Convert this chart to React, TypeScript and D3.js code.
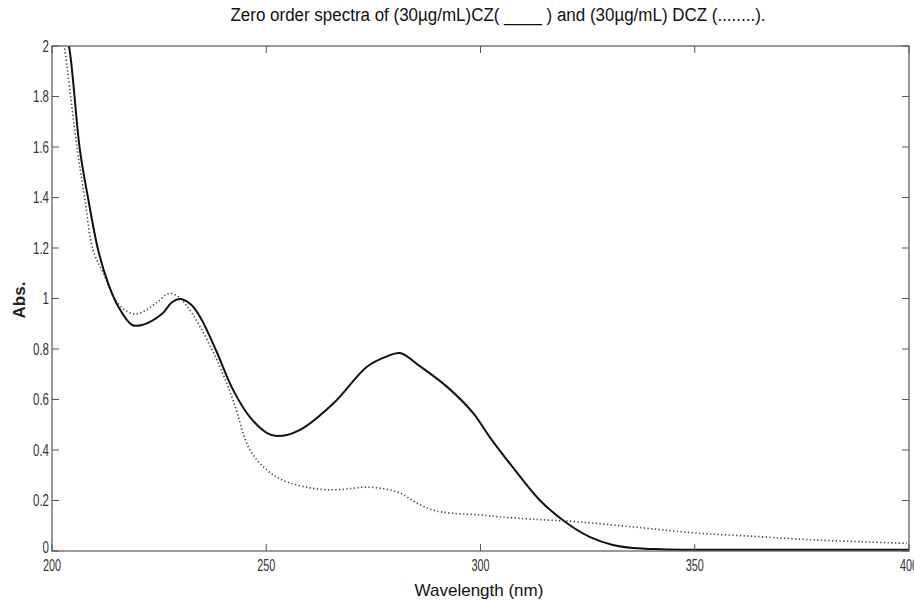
import React from "react";
import * as d3 from "d3";

const czWave = [202.5, 204.3, 206.5, 208.5, 210.8, 213.1, 215.4, 218.7, 221, 225.7, 228, 230, 232.5, 234.8, 238.4, 242.2, 246.2, 250.2, 252.5, 257.9, 265.7, 273.5, 278, 281.2, 286, 292.2, 298.3, 302.2, 307.6, 313.9, 320.2, 325.6, 330.9, 335.6, 342, 349.6, 375, 400];
const czAbs = [2.15, 1.96, 1.59, 1.39, 1.19, 1.06, 0.97, 0.895, 0.895, 0.94, 0.985, 0.998, 0.975, 0.92, 0.79, 0.64, 0.53, 0.467, 0.455, 0.48, 0.585, 0.73, 0.77, 0.784, 0.73, 0.65, 0.546, 0.45, 0.33, 0.2, 0.11, 0.055, 0.024, 0.012, 0.007, 0.005, 0.005, 0.005];

const dczWave = [201.8, 203.5, 205.9, 207.7, 209.6, 212, 215.4, 218.7, 221, 224.5, 227.3, 229.4, 231.5, 234.5, 238.4, 242.2, 246.2, 250.2, 253.9, 260.2, 265.6, 270, 273.5, 277.5, 281.2, 285.1, 288.9, 293, 299.9, 304.5, 312, 323.2, 337, 350.5, 365, 377.6, 390, 399.5];
const dczAbs = [2.15, 1.92, 1.59, 1.39, 1.19, 1.1, 0.98, 0.94, 0.945, 0.985, 1.02, 1.008, 0.97, 0.89, 0.76, 0.6, 0.4, 0.32, 0.28, 0.25, 0.242, 0.248, 0.253, 0.246, 0.23, 0.19, 0.162, 0.15, 0.143, 0.135, 0.126, 0.115, 0.093, 0.071, 0.057, 0.044, 0.036, 0.03];

const xTicks = [200, 250, 300, 350, 400];
const yTicks = [0, 0.2, 0.4, 0.6, 0.8, 1, 1.2, 1.4, 1.6, 1.8, 2];

const titleText = "Zero order spectra of (30µg/mL)CZ( ____ ) and (30µg/mL) DCZ (........).";
const xLabel = "Wavelength (nm)";
const yLabel = "Abs.";

export default function App() {
  const W = 914, H = 603;
  const L = 52, R = 909, T = 46, B = 551;
  const x = d3.scaleLinear().domain([200, 400]).range([L, R]);
  const y = d3.scaleLinear().domain([0, 2]).range([B, T]);
  const line = d3.line<[number, number]>()
    .x(d => x(d[0]))
    .y(d => y(d[1]))
    .curve(d3.curveCatmullRom.alpha(0.5));
  const czPath = line(czWave.map((w, i) => [w, czAbs[i]] as [number, number])) || "";
  const dczPath = line(dczWave.map((w, i) => [w, dczAbs[i]] as [number, number])) || "";
  const tickLen = 7;
  const axisColor = "#555";
  const labelColor = "#333";
  const font = "'Liberation Sans', Arial, sans-serif";

  return (
    <svg width={W} height={H} style={{ position: "absolute", left: 0, top: 0, background: "#fff" }}>
      <defs>
        <clipPath id="plotClip">
          <rect x={L} y={T} width={R - L} height={B - T} />
        </clipPath>
      </defs>
      <rect x={0} y={0} width={W} height={H} fill="#fff" />
      <text x={498} y={21} textAnchor="middle" fontFamily={font} fontSize={18} fill="#111"
        textLength={535} lengthAdjust="spacingAndGlyphs">{titleText}</text>

      {/* curves */}
      <g clipPath="url(#plotClip)">
        <path d={dczPath} fill="none" stroke="#444" strokeWidth={1.6} strokeDasharray="1.3,2.4" />
        <path d={czPath} fill="none" stroke="#111" strokeWidth={2} />
      </g>

      {/* frame */}
      <rect x={L} y={T} width={R - L} height={B - T} fill="none" stroke={axisColor} strokeWidth={1.2} />

      {/* x ticks */}
      {xTicks.map(t => (
        <g key={"x" + t}>
          <line x1={x(t)} x2={x(t)} y1={B} y2={B - tickLen} stroke={axisColor} strokeWidth={1} />
          <line x1={x(t)} x2={x(t)} y1={T} y2={T + tickLen} stroke={axisColor} strokeWidth={1} />
          <g transform={`translate(${x(t)},${571}) scale(0.68,1)`}>
            <text x={0} y={0} textAnchor="middle" fontFamily={font} fontSize={16} fill={labelColor}>{t}</text>
          </g>
        </g>
      ))}

      {/* y ticks */}
      {yTicks.map(t => (
        <g key={"y" + t}>
          <line x1={L} x2={L + tickLen} y1={y(t)} y2={y(t)} stroke={axisColor} strokeWidth={1} />
          <line x1={R} x2={R - tickLen} y1={y(t)} y2={y(t)} stroke={axisColor} strokeWidth={1} />
          <g transform={`translate(${L - 3},${y(t) + (t === 0 ? 2 : 5.5)}) scale(0.72,1)`}>
            <text x={0} y={0} textAnchor="end" fontFamily={font} fontSize={16} fill={labelColor}>{String(t)}</text>
          </g>
        </g>
      ))}

      <text x={479} y={596} textAnchor="middle" fontFamily={font} fontSize={17} fill="#111">{xLabel}</text>
      <text transform={`translate(25,300) rotate(-90)`} textAnchor="middle" fontFamily={font} fontSize={17} fontWeight="bold" fill="#222">{yLabel}</text>
    </svg>
  );
}
